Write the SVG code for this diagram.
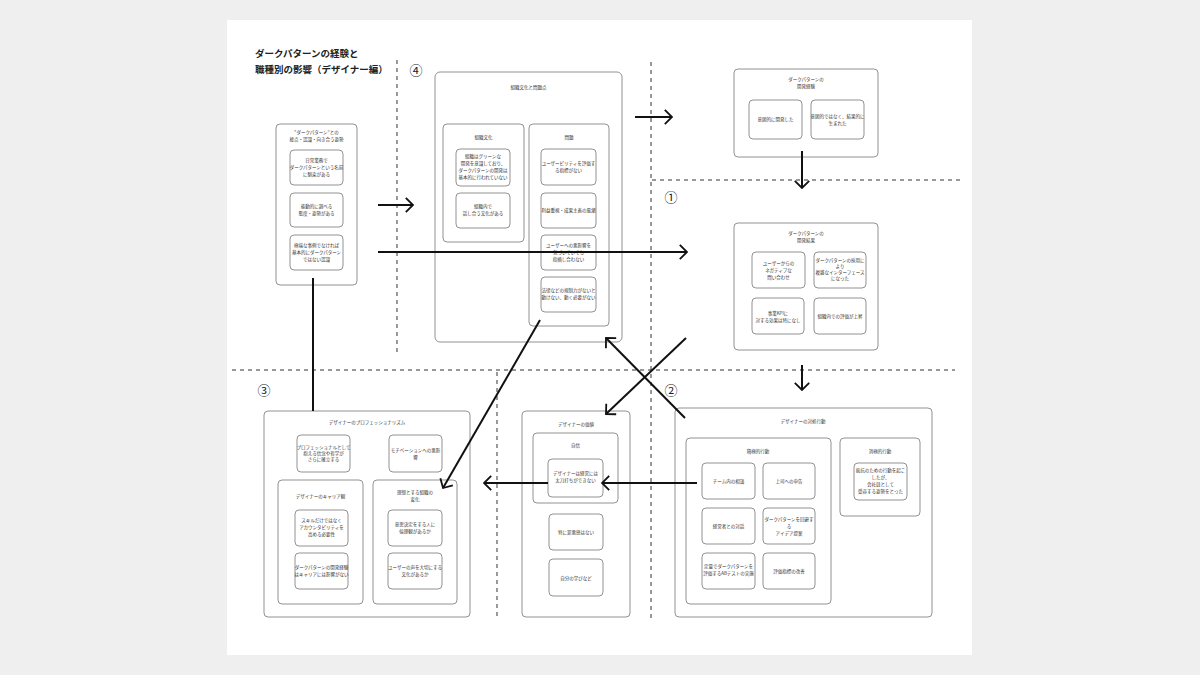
<svg xmlns="http://www.w3.org/2000/svg" width="1200" height="675" viewBox="0 0 1200 675">
<style>
.bg{fill:#efefef}
.panel{fill:#ffffff}
.box{fill:#ffffff;stroke:#777;stroke-width:0.8}
.t{font-family:"Noto Sans CJK JP","Noto Sans",sans-serif;font-size:4.5px;fill:#333;text-anchor:middle}
.h{font-family:"Noto Sans CJK JP","Noto Sans",sans-serif;font-size:9.5px;font-weight:bold;fill:#222}
.num{font-family:"Noto Sans CJK JP","DejaVu Sans",sans-serif;font-size:13px;fill:#222;text-anchor:middle}
.dash{stroke:#333;stroke-width:1;stroke-dasharray:4 4;fill:none}
.conn{stroke:#111;stroke-width:2;fill:none}
</style>
<defs>
<marker id="arr" viewBox="0 0 10 20" refX="9" refY="10" markerWidth="9" markerHeight="18" markerUnits="userSpaceOnUse" orient="auto">
<path d="M1,2 L9,10 L1,18" fill="none" stroke="#111" stroke-width="2"/>
</marker>
</defs>
<rect class="bg" x="0" y="0" width="1200" height="675"/>
<rect class="panel" x="227" y="20" width="745" height="635"/>

<g id="title">
<text class="h" x="255" y="57">ダークパターンの経験と</text>
<text class="h" x="255" y="73">職種別の影響（デザイナー編）</text>
</g>

<g id="guides">
<line class="dash" x1="397" y1="60" x2="397" y2="355"/>
<line class="dash" x1="651" y1="62" x2="651" y2="620"/>
<line class="dash" x1="652" y1="180" x2="962" y2="180"/>
<line class="dash" x1="232" y1="370" x2="955" y2="370"/>
<line class="dash" x1="497" y1="372" x2="497" y2="620"/>
<text class="num" x="416" y="75">④</text>
<text class="num" x="671" y="202">①</text>
<text class="num" x="264" y="395">③</text>
<text class="num" x="671" y="395">②</text>
</g>

<g id="node-stance">
<rect class="box" x="276" y="124" width="81" height="161" rx="4"/>
<text class="t" x="316.5" y="134">“ダークパターン”との</text>
<text class="t" x="316.5" y="141">接点・認識・向き合う姿勢</text>
<rect class="box" x="290" y="150" width="53" height="35" rx="4"/>
<text class="t" x="316.5" y="162">日常業務で</text>
<text class="t" x="316.5" y="169">ダークパターンという名前</text>
<text class="t" x="316.5" y="176">に馴染がある</text>
<rect class="box" x="290" y="193" width="53" height="34" rx="4"/>
<text class="t" x="316.5" y="208">能動的に調べる</text>
<text class="t" x="316.5" y="215">態度・姿勢がある</text>
<rect class="box" x="290" y="235" width="53" height="35" rx="4"/>
<text class="t" x="316.5" y="247">極端な事例でなければ</text>
<text class="t" x="316.5" y="254">基本的にダークパターン</text>
<text class="t" x="316.5" y="261">ではない認識</text>
</g>

<g id="node-org">
<rect class="box" x="435" y="72" width="187" height="270" rx="5"/>
<text class="t" x="528.5" y="89">組織文化と問題点</text>
<rect class="box" x="443" y="124" width="81" height="118" rx="4"/>
<text class="t" x="483.5" y="139">組織文化</text>
<rect class="box" x="456" y="149" width="54" height="37" rx="4"/>
<text class="t" x="483" y="158">組織はグリーンな</text>
<text class="t" x="483" y="165">開発を意識しており、</text>
<text class="t" x="483" y="172">ダークパターンの開発は</text>
<text class="t" x="483" y="179">基本的に行われていない</text>
<rect class="box" x="456" y="193" width="54" height="35" rx="4"/>
<text class="t" x="483" y="208">組織内で</text>
<text class="t" x="483" y="215">話し合う文化がある</text>
<rect class="box" x="529" y="124" width="80" height="202" rx="4"/>
<text class="t" x="569" y="139">問題</text>
<rect class="box" x="541" y="149" width="55" height="36" rx="4"/>
<text class="t" x="568.5" y="165">ユーザービリティを評価す</text>
<text class="t" x="568.5" y="172">る指標がない</text>
<rect class="box" x="541" y="193" width="55" height="35" rx="4"/>
<text class="t" x="568.5" y="212">利益重視・成果主義の風潮</text>
<rect class="box" x="541" y="235" width="55" height="35" rx="4"/>
<text class="t" x="568.5" y="247">ユーザーへの悪影響を</text>
<text class="t" x="568.5" y="254">気づいていても</text>
<text class="t" x="568.5" y="261">指摘し合わない</text>
<rect class="box" x="541" y="277" width="55" height="35" rx="4"/>
<text class="t" x="568.5" y="292">法律などの規制力がないと</text>
<text class="t" x="568.5" y="299">動けない、動く必要がない</text>
</g>

<g id="node-experience">
<rect class="box" x="734" y="69" width="144" height="88" rx="4"/>
<text class="t" x="806" y="81">ダークパターンの</text>
<text class="t" x="806" y="88">開発経験</text>
<rect class="box" x="749" y="100" width="53" height="39" rx="4"/>
<text class="t" x="775.5" y="121">意図的に開発した</text>
<rect class="box" x="811" y="100" width="53" height="39" rx="4"/>
<text class="t" x="837.5" y="118">意図的ではなく、結果的に</text>
<text class="t" x="837.5" y="125">生まれた</text>
</g>

<g id="node-result">
<rect class="box" x="734" y="223" width="144" height="127" rx="4"/>
<text class="t" x="806" y="235">ダークパターンの</text>
<text class="t" x="806" y="242">開発結果</text>
<rect class="box" x="752" y="252" width="53" height="36" rx="4"/>
<text class="t" x="778.5" y="265">ユーザーからの</text>
<text class="t" x="778.5" y="272">ネガティブな</text>
<text class="t" x="778.5" y="279">問い合わせ</text>
<rect class="box" x="814" y="252" width="52" height="36" rx="4"/>
<text class="t" x="840" y="262">ダークパターンの採用に</text>
<text class="t" x="840" y="268">より</text>
<text class="t" x="840" y="274">複雑なインターフェース</text>
<text class="t" x="840" y="280">になった</text>
<rect class="box" x="752" y="298" width="52" height="36" rx="4"/>
<text class="t" x="778" y="315">事業KPIに</text>
<text class="t" x="778" y="322">対する効果は特になし</text>
<rect class="box" x="814" y="298" width="52" height="36" rx="4"/>
<text class="t" x="840" y="318">組織内での評価が上昇</text>
</g>

<g id="node-professionalism">
<rect class="box" x="264" y="411" width="206" height="206" rx="4"/>
<text class="t" x="367" y="424">デザイナーのプロフェッショナリズム</text>
<rect class="box" x="297" y="435" width="53" height="37" rx="4"/>
<text class="t" x="323.5" y="449">プロフェッショナルとして</text>
<text class="t" x="323.5" y="455">抱える信念や哲学が</text>
<text class="t" x="323.5" y="461">さらに確立する</text>
<rect class="box" x="389" y="435" width="53" height="37" rx="4"/>
<text class="t" x="415.5" y="452">モチベーションへの悪影</text>
<text class="t" x="415.5" y="459">響</text>
<rect class="box" x="278" y="480" width="85" height="124" rx="4"/>
<text class="t" x="320.5" y="498">デザイナーのキャリア観</text>
<rect class="box" x="295" y="510" width="53" height="36" rx="4"/>
<text class="t" x="321.5" y="522">スキルだけではなく</text>
<text class="t" x="321.5" y="529">アカウンタビリティを</text>
<text class="t" x="321.5" y="536">高める必要性</text>
<rect class="box" x="295" y="553" width="53" height="36" rx="4"/>
<text class="t" x="321.5" y="569">ダークパターンの開発経験</text>
<text class="t" x="321.5" y="576">はキャリアには影響がない</text>
<rect class="box" x="373" y="480" width="84" height="124" rx="4"/>
<text class="t" x="415" y="494">理想とする組織の</text>
<text class="t" x="415" y="501">変化</text>
<rect class="box" x="388" y="510" width="54" height="36" rx="4"/>
<text class="t" x="415" y="526">意思決定をする人に</text>
<text class="t" x="415" y="533">倫理観があるか</text>
<rect class="box" x="388" y="553" width="54" height="36" rx="4"/>
<text class="t" x="415" y="569">ユーザーの声を大切にする</text>
<text class="t" x="415" y="576">文化があるか</text>
</g>

<g id="node-value">
<rect class="box" x="522" y="411" width="108" height="206" rx="4"/>
<text class="t" x="576" y="426">デザイナーの価値</text>
<rect class="box" x="533" y="433" width="85" height="70" rx="4"/>
<text class="t" x="575.5" y="447">自信</text>
<rect class="box" x="548" y="459" width="55" height="38" rx="4"/>
<text class="t" x="575.5" y="475">デザイナーは経営には</text>
<text class="t" x="575.5" y="482">太刀打ちができない</text>
<rect class="box" x="549" y="514" width="54" height="36" rx="4"/>
<text class="t" x="576" y="534">特に罪悪感はない</text>
<rect class="box" x="549" y="559" width="54" height="37" rx="4"/>
<text class="t" x="576" y="580">自分の学びなど</text>
</g>

<g id="node-action">
<rect class="box" x="675" y="408" width="257" height="209" rx="4"/>
<text class="t" x="803" y="423">デザイナーの対処行動</text>
<rect class="box" x="686" y="438" width="145" height="166" rx="4"/>
<text class="t" x="758" y="453">積極的行動</text>
<rect class="box" x="702" y="463" width="53" height="36" rx="4"/>
<text class="t" x="728.5" y="483">チーム内の相談</text>
<rect class="box" x="763" y="463" width="52" height="36" rx="4"/>
<text class="t" x="789" y="483">上司への申告</text>
<rect class="box" x="702" y="508" width="53" height="36" rx="4"/>
<text class="t" x="728.5" y="528">経営者との対話</text>
<rect class="box" x="763" y="508" width="52" height="36" rx="4"/>
<text class="t" x="789" y="521">ダークパターンを回避す</text>
<text class="t" x="789" y="528">る</text>
<text class="t" x="789" y="535">アイデア提案</text>
<rect class="box" x="702" y="553" width="53" height="36" rx="4"/>
<text class="t" x="728.5" y="568">定量でダークパターンを</text>
<text class="t" x="728.5" y="575">評価するABテストの実施</text>
<rect class="box" x="763" y="553" width="52" height="36" rx="4"/>
<text class="t" x="789" y="573">評価指標の改善</text>
<rect class="box" x="840" y="438" width="80" height="78" rx="4"/>
<text class="t" x="880" y="453">消極的行動</text>
<rect class="box" x="854" y="463" width="53" height="37" rx="4"/>
<text class="t" x="880.5" y="472">抵抗のための行動を起こ</text>
<text class="t" x="880.5" y="479">したが、</text>
<text class="t" x="880.5" y="486">会社員として</text>
<text class="t" x="880.5" y="493">受容する姿勢をとった</text>
</g>

<g id="connectors">
<line class="conn" x1="313" y1="278" x2="313" y2="411"/>
<line class="conn" x1="378" y1="205" x2="413" y2="205" marker-end="url(#arr)"/>
<line class="conn" x1="378" y1="252" x2="687" y2="252" marker-end="url(#arr)"/>
<line class="conn" x1="635" y1="117" x2="672" y2="117" marker-end="url(#arr)"/>
<line class="conn" x1="802" y1="151" x2="802" y2="188" marker-end="url(#arr)"/>
<line class="conn" x1="802" y1="365" x2="802" y2="390" marker-end="url(#arr)"/>
<line class="conn" x1="686" y1="338" x2="606" y2="414" marker-end="url(#arr)"/>
<line class="conn" x1="685" y1="418" x2="606" y2="338" marker-end="url(#arr)"/>
<line class="conn" x1="540" y1="320" x2="443" y2="488" marker-end="url(#arr)"/>
<line class="conn" x1="697" y1="483" x2="602" y2="483" marker-end="url(#arr)"/>
<line class="conn" x1="548" y1="483" x2="484" y2="483" marker-end="url(#arr)"/>
</g>
</svg>
